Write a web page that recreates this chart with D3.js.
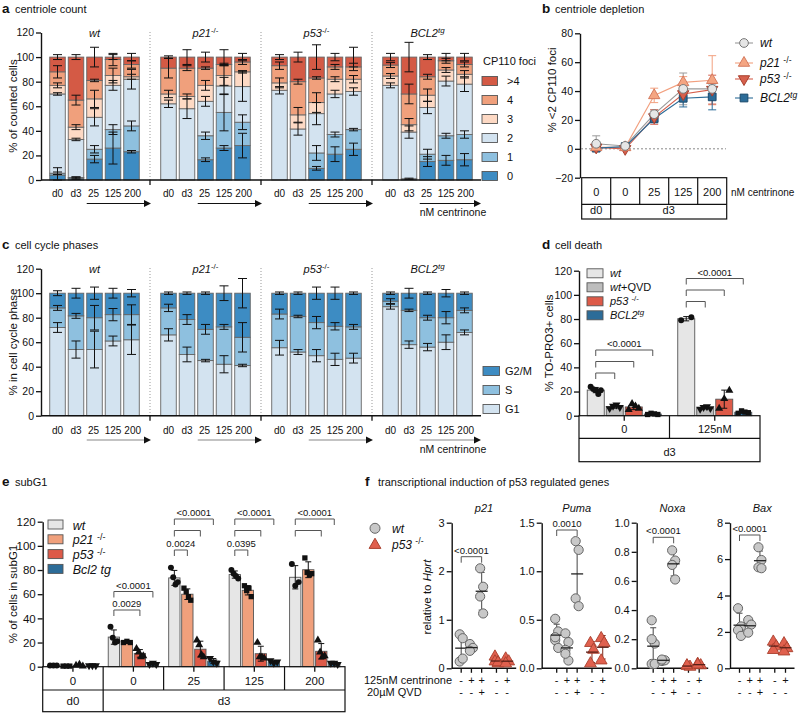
<!DOCTYPE html>
<html><head><meta charset="utf-8">
<script src="https://cdn.jsdelivr.net/npm/d3@7"></script>
<style>body{margin:0;background:#fff}svg{display:block}text{font-family:"Liberation Sans",Arial,sans-serif;fill:#111}</style>
</head><body>
<svg id="c" width="799" height="713"></svg>
<script>
// ---------------- DATA ----------------
// panel a: centriole count (stack segments, % of counted cells), order wt,p21,p53,BCL2 x d0,d3,25,125,200
const genotypes = ["wt","p21","p53","BCL2"];
const conditions = ["d0","d3","25","125","200"];
const fociKeys = ["0","1","2","3","4",">4"];
const foci0  = [4,1.5,17,26,23, 0,0,16.5,26,28, 0,0,9.5,21,25, 0,1,15,16,16.5];
const foci1  = [1.5,0.5,8,15,21, 0,0,19.5,29,19, 0,0,12.5,16,16, 0,0,6,20,20.5];
const foci2  = [64.5,31,26,36,38, 62,58,28,21.5,29, 73,41.5,32,33,31, 77,38,38,44.5,41];
const foci3  = [7,10,15,8,2, 8,10,13,8.5,12, 6,11.5,9,12,10, 7.6,6,10,9,8];
const foci4  = [11,22,15,13,10, 21,23,14,9,8, 14,27,20,10,10, 8.9,25,15,7.5,8];
const fociGt4= [12,35,19,2,6, 9,9,9,6,4, 7,20,17,8,8, 6.5,30,16,3,6];
const fociErr0 = [6,1,3,13,1, 0,0,1.5,2,10, 0,0,1.5,6,5, 0,0.5,4,4,5];
const fociErr1 = [1,0.5,3,4,4, 0,0,3,15,6, 0,0,6,2,1, 0,0,4,2,3];
const fociErr2 = [1,1,7,4,8, 3,8,4,7,12, 3,5,9,3,3, 2,5,5,4,6];
const fociErr3 = [2,2,7,6,2, 3,2,4,8,1, 4,6,8,2,3, 2,5,5,2,3];
const fociErr4 = [5,4,1,5,3, 8,2,1,1,2, 3,2,1,2,3, 2,8,2,2,2];
const fociErrGt4=[2,2,8,2,3, 1,6,4,6,3, 2,4,10,3,8, 3,12,2,3,3];

// panel b: centriole depletion (% <2 CP110 foci)
const depletionX = ["0","0","25","125","200"];
const depletionWt   = [3.5,2,24,41.5,41.5];
const depletionP21  = [1,1,37,46,47.5];
const depletionP53  = [1,0,22,38,41];
const depletionBcl2 = [0.5,1.5,21,35,36];
const depletionWtErr   = [5.5,2,3,11,4];
const depletionP21Err  = [1,1,5,4,17];
const depletionP53Err  = [1,1,5,4,10];
const depletionBcl2Err = [1,1,3,6,9];

// panel c: cell cycle phases
const phaseKeys = ["G1","S","G2/M"];
const phaseG1 = [72,54,54,61,62, 66,50,45,42,41, 55.5,52,49,46,47, 89,58,56,60,68];
const phaseS  = [16,27.5,26,21.5,20.5, 22,28.5,25.5,30.5,23, 27.5,29,27,27,25.5, 4.5,28,24,20,18];
const phaseG1Err = [4,7,15,4,12, 5,6,1,7,1, 6,2,5,5,4, 2,3,3,6,2];
const phaseSErr  = [2,2,10,5,8, 3,4,4,2,12, 4,1,5,3,2, 2,1,2,5,2];
const phaseTopErr= [2,4,5,4,3, 1,1,1,6,12, 1,1,5,5,1, 1,4,1,3,1];

// panel d: cell death (% TO-PRO3+)
const deathGroups = ["0","125nM"];
const deathSeries = ["wt","wtQVD","p53","BCL2"];
const deathWt    = [[24,22,21,18,21],[79,81.5]];
const deathWtQVD = [[6,8,9,7],[5.5,7,7.5,6]];
const deathP53   = [[5,10,8,6],[6,14,21]];
const deathBcl2  = [[1,2,1.5,1],[2,4,3,2.5]];

// panel e: subG1
const subG1Groups = ["0","0","25","125","200"];
const subG1Series = ["wt","p21","p53","Bcl2"];
const subG1Wt   = [[1,1,1],[33,24,20,21],[82,74,68,70],[80,77,75,73],[85,67,70]];
const subG1P21  = [[0.5,0.5,0.5],[20,21,20],[65,62,58,55],[67,63,65,58],[90,78,76,77]];
const subG1P53  = [[1,2,0.5],[15,12,8,9],[22,18,10,8],[20,8,8,7],[22,12,8,9]];
const subG1Bcl2 = [[1,1,1],[2,3,2],[7,4,3],[5,3,4],[3,3,2]];

// panel f: transcription relative to Hprt
const fGenes = ["p21","Puma","Noxa","Bax"];
const fCentrinone = ["-","+","+","-","+"];
const fQVD = ["-","-","+","-","-"];
const fMax = [3,1.5,1,8];
const fTicks = [[0,1,2,3],[0,0.5,1,1.5],[0,0.2,0.4,0.6,0.8,1],[0,2,4,6,8]];
const fP21  = [[0.7,0.62,0.14,0.2],[0.5,0.42,0.36],[2.06,1.68,1.48,1.13],[0.24,0.1,0.14,0.12],[0.2,0.14,0.1]];
const fPuma = [[0.51,0.38,0.29,0.21,0.32],[0.36,0.27,0.19,0.08,0.15],[1.31,1.22,0.72,0.64],[0.26,0.19,0.05],[0.31,0.26,0.08]];
const fNoxa = [[0.33,0.17,0.03,0.03,0.2],[0.05,0.055,0.06],[0.81,0.74,0.71,0.61],[0.016,0.01,0.02],[0.03,0.02,0.025]];
const fBax  = [[3.3,2.3,2.1,1.78],[2.65,2.4,1.96],[6.65,5.95,5.55,5.5],[1.46,1.2,1.0],[1.37,1.1,0.92]];
const fPval = ["<0.0001","0.0010","<0.0001","<0.0001"];

// ---------------- DRAWING ----------------
const svg = d3.select("#c");
const FS = 10.5;
const FF = '"Liberation Sans",Arial,sans-serif';
const geno = {
  wt:[{t:"wt",it:1}],
  p21:[{t:"p21",it:1},{t:"-/-",sup:1}],
  p53:[{t:"p53",it:1},{t:"-/-",sup:1}],
  BCL2:[{t:"BCL2",it:1},{t:"tg",sup:1,it:1}]
};
function txt(x,y,parts,o={}){
  const size=o.size||FS;
  const t=svg.append("text").attr("x",x).attr("y",y).attr("font-size",size).attr("text-anchor",o.anchor||"start");
  if(o.transform) t.attr("transform",o.transform);
  if(typeof parts==="string") parts=[{t:parts}];
  let sh=false;
  parts.forEach(p=>{
    const s=t.append("tspan").text(p.t);
    if(p.it) s.attr("font-style","italic");
    if(p.b) s.attr("font-weight","bold");
    if(p.sup){s.attr("font-size",size*0.72).attr("dy",-size*0.36);sh=true;}
    else if(sh){s.attr("dy",size*0.36);sh=false;}
  });
  return t;
}
function title(x,y,letter,label){
  txt(x,y,[{t:letter,b:1}],{size:13.5});
  txt(x+13,y,label,{size:11});
}
function leftAxis(x,scale,ticks,fmt,size){
  const ax=d3.axisLeft(scale).tickValues(ticks).tickSize(5).tickSizeOuter(0).tickPadding(2);
  if(fmt) ax.tickFormat(fmt);
  const g=svg.append("g").attr("transform",`translate(${x},0)`).call(ax).attr("font-family",FF);
  g.select(".domain").attr("stroke","#111").attr("stroke-width",1.4);
  g.selectAll(".tick line").attr("stroke","#111").attr("stroke-width",1.3);
  g.selectAll(".tick text").attr("font-size",size||FS).attr("fill","#111");
  return g;
}
function line(x1,y1,x2,y2,c,w,dash){
  const l=svg.append("line").attr("x1",x1).attr("y1",y1).attr("x2",x2).attr("y2",y2).attr("stroke",c||"#111").attr("stroke-width",w||1);
  if(dash) l.attr("stroke-dasharray",dash);
  return l;
}
function errBar(x,y1,y2,cap,c){
  line(x,y1,x,y2,c||"#111",1);
  line(x-cap/2,y1,x+cap/2,y1,c||"#111",1);
  line(x-cap/2,y2,x+cap/2,y2,c||"#111",1);
}
function bracket(x1,x2,y,label,fs){
  svg.append("path").attr("d",`M${x1},${y+6}V${y}H${x2}V${y+6}`).attr("fill","none").attr("stroke","#555").attr("stroke-width",1);
  if(label) txt((x1+x2)/2,y-3,label,{size:fs||9.5,anchor:"middle"});
}
function arrow(x1,x2,y,c){
  line(x1,y,x2-5,y,c||"#111",1.2);
  svg.append("path").attr("d",`M${x2},${y}L${x2-7},${y-3.5}L${x2-7},${y+3.5}Z`).attr("fill","#111");
}
function rotLabel(x,y,parts,size){
  txt(0,0,parts,{size:size||11,anchor:"middle",transform:`translate(${x},${y}) rotate(-90)`});
}

// ---------- Panel a & c: stacked bars ----------
const xG = d3.scaleBand().domain(genotypes).range([39,483]);
const xC = d3.scaleBand().domain(conditions).range([0,111]).paddingInner(0.16).paddingOuter(0.58);
const bw = xC.bandwidth();
const fociColor = {"0":"#3d8cc3","1":"#8ec0df","2":"#d3e3f0","3":"#fdd9c4","4":"#f0a07c",">4":"#d45a45"};
const phaseColor = {"G1":"#d3e3f0","S":"#8ec0df","G2/M":"#3d8cc3"};

function stackedPanel(yScale, keys, seriesArr, errArr, colors, topY, xLabY, arrowY, arrowCol, centY){
  const rows=[];
  genotypes.forEach((g,gi)=>conditions.forEach((c,ci)=>{
    const i=gi*5+ci, r={g,c};
    keys.forEach((k,ki)=>r[k]=seriesArr[ki][i]);
    rows.push(r);
  }));
  const st=d3.stack().keys(keys)(rows);
  genotypes.slice(1).forEach(g=>line(xG(g),topY,xG(g),yScale(0),"#999",1,"1,2"));
  st.forEach(s=>{
    svg.append("g").selectAll("rect").data(s).join("rect")
      .attr("x",d=>xG(d.data.g)+xC(d.data.c)).attr("width",bw)
      .attr("y",d=>yScale(d[1])).attr("height",d=>Math.max(0,yScale(d[0])-yScale(d[1])))
      .attr("fill",colors[s.key]).attr("stroke","#666").attr("stroke-width",0.9);
  });
  st.forEach((s,ki)=>s.forEach((d,i)=>{
    const e=errArr[ki][i];
    if(e>0){const cx=xG(d.data.g)+xC(d.data.c)+bw/2;errBar(cx,yScale(d[1]+e),yScale(Math.max(0,d[1]-e)),9);}
  }));
  leftAxis(41,yScale,d3.range(0,121,20));
  line(41,yScale(0),481,yScale(0),"#111",1.4);
  genotypes.slice(1).forEach(g=>line(xG(g),yScale(0),xG(g),yScale(0)+5,"#111",1.3));
  genotypes.forEach(g=>{
    txt(xG(g)+xG.bandwidth()/2,topY+5,geno[g],{anchor:"middle",size:11});
    conditions.forEach((c,ci)=>txt(xG(g)+xC(c)+bw/2+(ci===4?1.2:ci===2?-1:0),xLabY,c,{anchor:"middle",size:10}));
    const x2=Math.min(xG(g)+xG.bandwidth()+1,481);
    arrow(xG(g)+xC("25"),x2,arrowY,arrowCol);
  });
  txt(453,centY,"nM centrinone",{anchor:"middle",size:10.5});
}
title(2,12.5,"a","centriole count");
const yA=d3.scaleLinear().domain([0,120]).range([180,32.5]);
stackedPanel(yA,fociKeys,[foci0,foci1,foci2,foci3,foci4,fociGt4],[fociErr0,fociErr1,fociErr2,fociErr3,fociErr4,fociErrGt4],fociColor,32,197,203.5,"#111",216);
rotLabel(17,106,"% of counted cells",11.5);
txt(483,65,"CP110 foci",{size:11});
[...fociKeys].reverse().forEach((k,i)=>{
  const cy=81+i*19;
  svg.append("rect").attr("x",482).attr("y",cy-4.5).attr("width",15.5).attr("height",9).attr("fill",fociColor[k]).attr("stroke","#555").attr("stroke-width",0.9);
  txt(507,cy+4,k,{size:11});
});

title(2,249,"c","cell cycle phases");
const yC=d3.scaleLinear().domain([0,120]).range([415.7,268.7]);
stackedPanel(yC,phaseKeys,[phaseG1,phaseS,phaseG1.map((v,i)=>100-v-phaseS[i])],[phaseG1Err,phaseSErr,phaseTopErr],phaseColor,268,434,440,"#888",453);
rotLabel(17,342,"% in cell cycle phase",11.5);
[...phaseKeys].reverse().forEach((k,i)=>{
  const cy=371+i*19;
  svg.append("rect").attr("x",483).attr("y",cy-4.5).attr("width",16.5).attr("height",9).attr("fill",phaseColor[k]).attr("stroke","#555").attr("stroke-width",0.9);
  txt(505,cy+4,k,{size:11});
});

// ---------- Panel b ----------
title(542,12.5,"b","centriole depletion");
const yB=d3.scaleLinear().domain([-20,80]).range([177.7,33.3]);
const xB=d3.scaleBand().domain(d3.range(5)).range([581.7,726.7]);
leftAxis(580,yB,[-20,0,20,40,60,80]);
line(581,yB(0),726,yB(0),"#888",1,"2,2");
const tb0=177.7,tb1=204.3,tb2=219;
svg.append("rect").attr("x",581.7).attr("y",tb0).attr("width",145).attr("height",tb2-tb0).attr("fill","none").attr("stroke","#111").attr("stroke-width",1.2);
line(581.7,tb1,726.7,tb1,"#111",1.2);
d3.range(1,5).forEach(i=>line(xB(i),tb0,xB(i),tb1,"#111",1.2));
line(xB(1),tb1,xB(1),tb2,"#111",1.2);
depletionX.forEach((l,i)=>txt(xB(i)+xB.bandwidth()/2,196,l,{anchor:"middle",size:11}));
txt(xB(0)+xB.bandwidth()/2,214,"d0",{anchor:"middle",size:11});
txt((xB(1)+726.7)/2,214,"d3",{anchor:"middle",size:11});
txt(731,196,"nM centrinone",{size:10});
rotLabel(556,90,"% <2 CP110 foci",11.5);
const bSeries=[
  {k:"wt",v:depletionWt,e:depletionWtErr,line:"#9a9a9a",fill:"#e6e6e6",stroke:"#777",sym:d3.symbolCircle,rot:0,size:60},
  {k:"p21",v:depletionP21,e:depletionP21Err,line:"#f2a07f",fill:"#f4a582",stroke:"#d47a5e",sym:d3.symbolTriangle,rot:0,size:55},
  {k:"p53",v:depletionP53,e:depletionP53Err,line:"#d6604d",fill:"#d6604d",stroke:"#a8402e",sym:d3.symbolTriangle,rot:180,size:55},
  {k:"BCL2",v:depletionBcl2,e:depletionBcl2Err,line:"#2c6c98",fill:"#2c6c98",stroke:"#1b4a6c",sym:d3.symbolSquare,rot:0,size:60}
];
const bx=i=>xB(i)+xB.bandwidth()/2;
bSeries.forEach(s=>{
  s.v.forEach((v,i)=>errBar(bx(i),yB(v+s.e[i]),yB(v-s.e[i]),8,s.line));
  svg.append("path").attr("d",d3.line().x((d,i)=>bx(i)).y(d=>yB(d))(s.v)).attr("fill","none").attr("stroke",s.line).attr("stroke-width",1.1);
});
bSeries.slice().reverse().forEach(s=>{
  s.v.forEach((v,i)=>svg.append("path").attr("d",d3.symbol(s.sym,s.size)()).attr("transform",`translate(${bx(i)},${yB(v)}) rotate(${s.rot})`).attr("fill",s.fill).attr("stroke",s.stroke).attr("stroke-width",1));
});
const bLegY=[43,63,79,98];
const bLegLab=[geno.wt,[{t:"p21 ",it:1},{t:"-/-",sup:1}],[{t:"p53 ",it:1},{t:"-/-",sup:1}],geno.BCL2];
bSeries.forEach((s,i)=>{
  line(735,bLegY[i],753,bLegY[i],s.line,1.1);
  svg.append("path").attr("d",d3.symbol(s.sym,s.size)()).attr("transform",`translate(744,${bLegY[i]}) rotate(${s.rot})`).attr("fill",s.fill).attr("stroke",s.stroke);
  txt(760,bLegY[i]+4,bLegLab[i],{size:12});
});

// ---------- bar+points helper ----------
function dotBars(xOuter,xInner,yScale,groups,seriesKeys,dataBySeries,colors,shapes){
  const ib=xInner.bandwidth();
  seriesKeys.forEach((k,si)=>groups.forEach((g,gi)=>{
    const pts=dataBySeries[si][gi], m=d3.mean(pts), sd=pts.length>1?d3.deviation(pts):0;
    const x0=xOuter(gi)+xInner(k), cx=x0+ib/2;
    svg.append("rect").attr("x",x0).attr("width",ib).attr("y",yScale(m)).attr("height",yScale(0)-yScale(m))
      .attr("fill",colors[si]).attr("stroke","#555").attr("stroke-width",0.9);
    pts.forEach((p,pi)=>{
      const dx=pts.length>1?(pi-(pts.length-1)/2)*(ib*0.6/(pts.length-1)):0;
      svg.append("path").attr("d",d3.symbol(shapes[si].s,28)()).attr("transform",`translate(${cx+dx},${yScale(p)}) rotate(${shapes[si].r})`).attr("fill","#111");
    });
    errBar(cx,yScale(m+sd),yScale(Math.max(0,m-sd)),6,"#111");
  }));
}

// ---------- Panel d ----------
title(542,249,"d","cell death");
const yD=d3.scaleLinear().domain([0,120]).range([415.7,270.7]);
const xDG=d3.scaleBand().domain(d3.range(2)).range([579,760]);
const xDI=d3.scaleBand().domain(deathSeries).range([0,xDG.bandwidth()]).paddingInner(0.105).paddingOuter(0.434);
const deathColors=["#e6e6e6","#bdbdbd","#dd5a48","#2c6c98"];
dotBars(xDG,xDI,yD,deathGroups,deathSeries,[deathWt,deathWtQVD,deathP53,deathBcl2],deathColors,
  [{s:d3.symbolCircle,r:0},{s:d3.symbolTriangle,r:180},{s:d3.symbolTriangle,r:0},{s:d3.symbolSquare,r:0}]);
leftAxis(579,yD,d3.range(0,121,20));
svg.append("rect").attr("x",579).attr("y",415.7).attr("width",181).attr("height",46).attr("fill","none").attr("stroke","#111").attr("stroke-width",1.2);
line(579,438.3,760,438.3,"#111",1.2);
line(xDG(1),415.7,xDG(1),438.3,"#111",1.2);
deathGroups.forEach((g,i)=>{
  const c=xDG(i)+xDG.bandwidth()/2;
  line(c,415.7,c,420.7,"#111",1.3);
  txt(c,433,g,{anchor:"middle",size:11});
});
txt(669.5,456,"d3",{anchor:"middle",size:11});
rotLabel(553,343,"% TO-PRO3+ cells",11.5);
const dcx=(gi,k)=>xDG(gi)+xDI(k)+xDI.bandwidth()/2;
bracket(dcx(0,"wt"),dcx(0,"wtQVD"),373);
bracket(dcx(0,"wt"),dcx(0,"p53"),361.5);
bracket(dcx(0,"wt"),dcx(0,"BCL2"),350,"<0.0001");
bracket(dcx(1,"wt"),dcx(1,"wtQVD"),301.5);
bracket(dcx(1,"wt"),dcx(1,"p53"),290);
bracket(dcx(1,"wt"),dcx(1,"BCL2"),278.5,"<0.0001");
const dLeg=[geno.wt,[{t:"wt",it:1},{t:"+QVD"}],[{t:"p53 ",it:1},{t:"-/-",sup:1}],geno.BCL2];
dLeg.forEach((l,i)=>{
  const cy=273.3+i*14;
  svg.append("rect").attr("x",587).attr("y",cy-4.5).attr("width",16).attr("height",9).attr("fill",deathColors[i]).attr("stroke","#555").attr("stroke-width",0.9);
  txt(610,cy+4,l,{size:11});
});

// ---------- Panel e ----------
title(2,486,"e","subG1");
const yE=d3.scaleLinear().domain([0,120]).range([666.7,521.7]);
const xEG=d3.scaleBand().domain(d3.range(5)).range([42.7,345]);
const xEI=d3.scaleBand().domain(subG1Series).range([0,xEG.bandwidth()]).paddingInner(0.13).paddingOuter(0.39);
const subColors=["#e6e6e6","#f0a07c","#dd5a48","#2c6c98"];
dotBars(xEG,xEI,yE,subG1Groups,subG1Series,[subG1Wt,subG1P21,subG1P53,subG1Bcl2],subColors,
  [{s:d3.symbolCircle,r:0},{s:d3.symbolSquare,r:0},{s:d3.symbolTriangle,r:0},{s:d3.symbolTriangle,r:180}]);
leftAxis(42.7,yE,d3.range(0,121,20),null,11.5);
svg.append("rect").attr("x",42.7).attr("y",666.7).attr("width",302.3).attr("height",45).attr("fill","none").attr("stroke","#111").attr("stroke-width",1.2);
line(42.7,690,345,690,"#111",1.2);
d3.range(1,5).forEach(i=>line(xEG(i),666.7,xEG(i),690,"#111",1.2));
line(xEG(1),690,xEG(1),711.7,"#111",1.2);
subG1Groups.forEach((g,i)=>{
  const c=xEG(i)+xEG.bandwidth()/2;
  line(c,666.7,c,671.7,"#111",1.3);
  txt(c,685,g,{anchor:"middle",size:11.5});
});
txt(xEG(0)+xEG.bandwidth()/2,705,"d0",{anchor:"middle",size:11.5});
txt((xEG(1)+345)/2,705,"d3",{anchor:"middle",size:11.5});
rotLabel(17,594,"% of cells in subG1",11.5);
const ecx=(gi,k)=>xEG(gi)+xEI(k)+xEI.bandwidth()/2;
bracket(ecx(1,"wt"),ecx(1,"p53"),610,"0.0029");
bracket(ecx(1,"wt"),ecx(1,"Bcl2"),591.5,"<0.0001");
[2,3,4].forEach((gi,j)=>{
  if(j<2) bracket(ecx(gi,"wt"),ecx(gi,"p21"),550,j===0?"0.0024":"0.0395");
  bracket(ecx(gi,"wt"),ecx(gi,"p53"),530.5);
  bracket(ecx(gi,"wt"),ecx(gi,"Bcl2"),519,"<0.0001");
});
const eLeg=[[{t:"wt",it:1}],[{t:"p21 ",it:1},{t:"-/-",sup:1}],[{t:"p53 ",it:1},{t:"-/-",sup:1}],[{t:"Bcl2 tg",it:1}]];
eLeg.forEach((l,i)=>{
  const cy=524.5+i*14.8;
  svg.append("rect").attr("x",48).attr("y",cy-4.5).attr("width",15).attr("height",9).attr("fill",subColors[i]).attr("stroke","#555").attr("stroke-width",0.9);
  txt(72.7,cy+5,l,{size:12.5});
});

// ---------- Panel f ----------
title(365,486,"f","transcriptional induction of p53 regulated genes");
svg.append("circle").attr("cx",375).attr("cy",528.3).attr("r",5).attr("fill","#c8c8c8").attr("stroke","#666");
svg.append("path").attr("d",d3.symbol(d3.symbolTriangle,60)()).attr("transform","translate(375,545)").attr("fill","#e0604e").attr("stroke","#a8402e");
txt(392,532.5,[{t:"wt",it:1}],{size:12});
txt(392,548.5,[{t:"p53 ",it:1},{t:"-/-",sup:1}],{size:12});
const fAxisX=[451.7,541.7,636.7,730];
const fOff=[9.5,15,16.5,9.5];
const fSlots=[0,1,2,3.45,4.5];
const fData=[fP21,fPuma,fNoxa,fBax];
const fFmt=[d3.format("d"),d3.format(".1f"),d3.format(".1f"),d3.format("d")];
fGenes.forEach((gene,gi)=>{
  const ax=fAxisX[gi];
  const y=d3.scaleLinear().domain([0,fMax[gi]]).range([668.3,522.7]);
  const x=d3.scaleLinear().domain([0,4.5]).range([ax+fOff[gi],ax+fOff[gi]+46]);
  leftAxis(ax,y,fTicks[gi],fFmt[gi],11);
  const xEnd=x(4.5)+9;
  line(ax,668.3,xEnd,668.3,"#111",1.4);
  txt((ax+xEnd)/2,512,[{t:gene,it:1}],{anchor:"middle",size:11});
  fData[gi].forEach((pts,ci)=>{
    const cx=x(fSlots[ci]), wtS=ci<3;
    line(cx,668.3,cx,672.8,"#111",1.3);
    txt(cx,684,fCentrinone[ci],{anchor:"middle",size:11});
    txt(cx,696,fQVD[ci],{anchor:"middle",size:11});
    const m=d3.mean(pts), sd=d3.deviation(pts);
    const col=wtS?"#555":"#8a3a2c";
    line(cx,y(m+sd),cx,y(Math.max(0,m-sd)),col,1.1);
    line(cx-3,y(m+sd),cx+3,y(m+sd),col,1.1);
    line(cx-3,y(Math.max(0,m-sd)),cx+3,y(Math.max(0,m-sd)),col,1.1);
    pts.forEach((p,pi)=>{
      const dx=(pi%2?1.5:-1.5);
      if(wtS) svg.append("circle").attr("cx",cx+dx).attr("cy",y(p)).attr("r",4.6).attr("fill","#c8c8c8").attr("stroke","#666").attr("stroke-width",1);
      else svg.append("path").attr("d",d3.symbol(d3.symbolTriangle,60)()).attr("transform",`translate(${cx+dx},${y(p)})`).attr("fill","#e0604e").attr("stroke","#a8402e").attr("stroke-width",0.9);
    });
    line(cx-6,y(m),cx+6,y(m),wtS?"#222":"#5a2018",1.3);
  });
  const yb={p21:556.7,Puma:530,Noxa:537.3,Bax:535}[gene];
  bracket(x(0),x(2),yb,fPval[gi],9.5);
});
rotLabel(431,597,[{t:"relative to "},{t:"Hprt",it:1}],11.5);
txt(364,684,"125nM centrinone",{size:11});
txt(367,696,"20µM QVD",{size:11});
</script>
</body></html>
